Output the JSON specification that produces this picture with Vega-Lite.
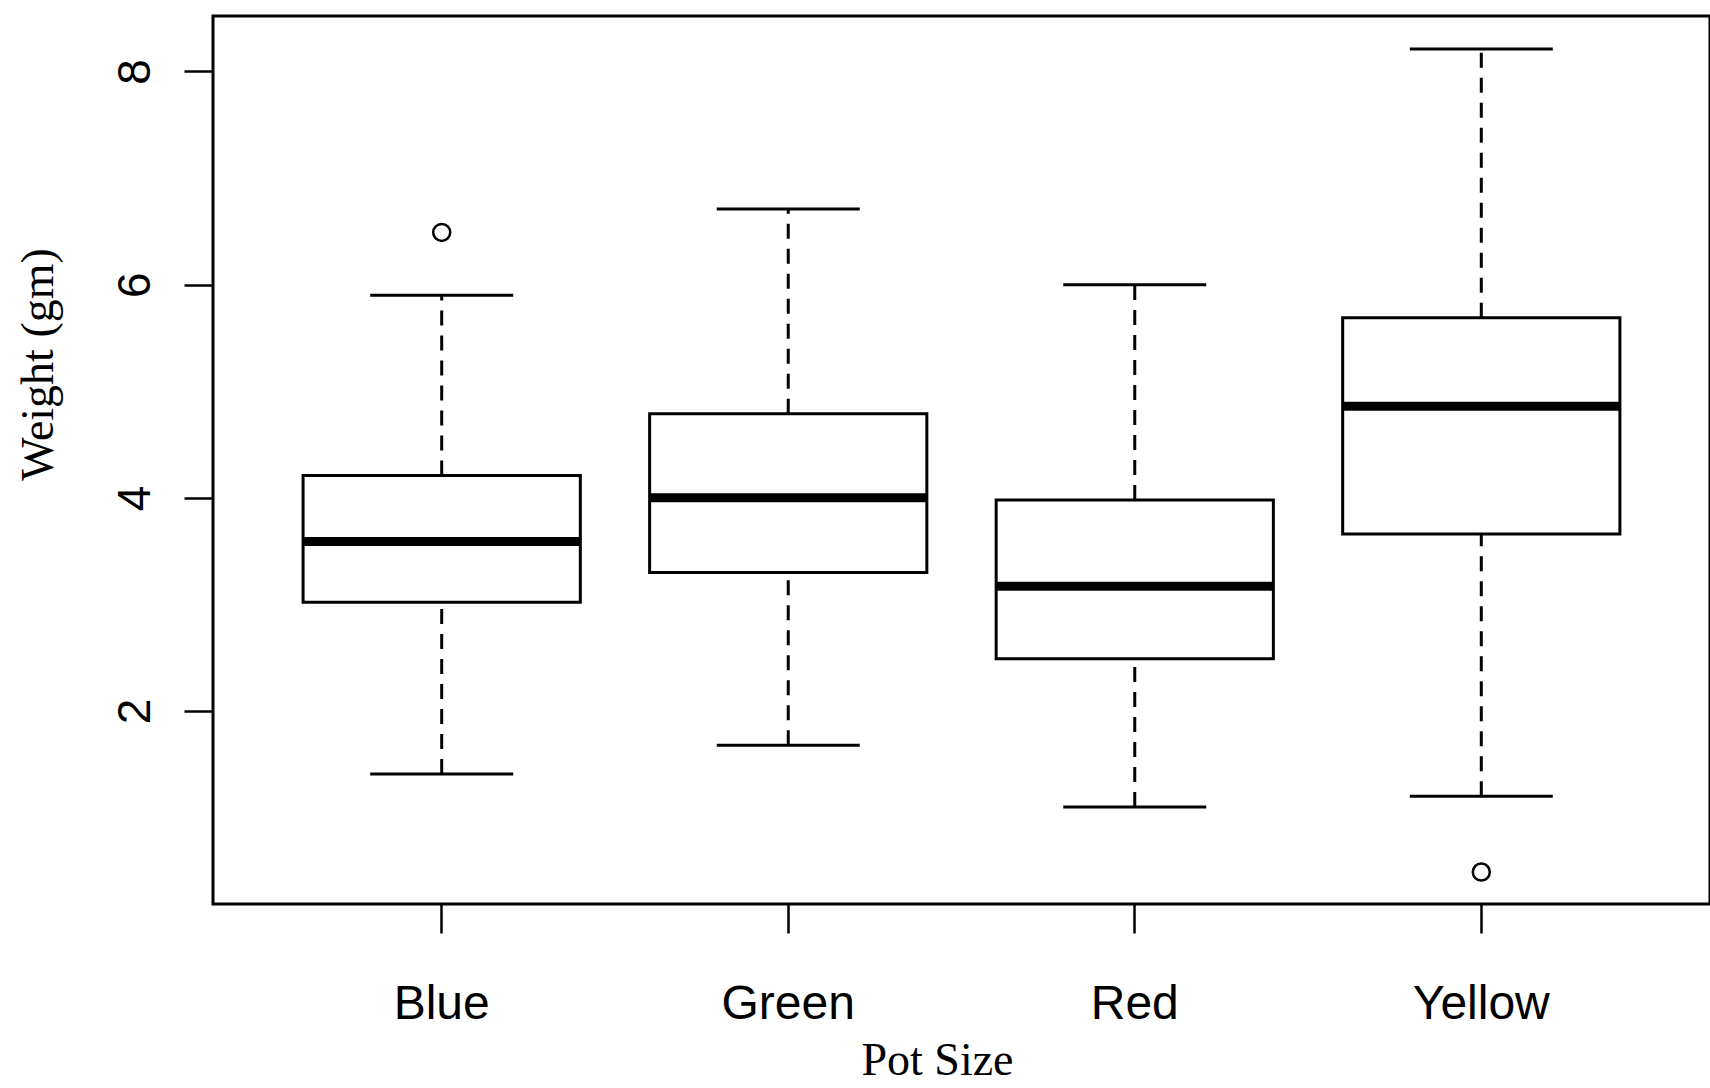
{
  "$schema": "https://vega.github.io/schema/vega-lite/v6.json",
  "width": 1497,
  "height": 888,
  "autosize": {"type": "none"},
  "padding": {"left": 213, "top": 16, "right": 0, "bottom": 184},
  "background": "white",
  "config": {
    "view": {"stroke": "black", "strokeWidth": 3, "fill": "white"},
    "axis": {"grid": false, "domain": false, "tickColor": "black", "tickWidth": 2.5, "tickSize": 29, "labelColor": "black", "titleColor": "black"}
  },
  "datasets": {
    "boxes": [
      {"Pot": "Blue", "lower": 1.41, "q1": 3.02, "median": 3.59, "q3": 4.21, "upper": 5.90},
      {"Pot": "Green", "lower": 1.68, "q1": 3.30, "median": 4.00, "q3": 4.79, "upper": 6.71},
      {"Pot": "Red", "lower": 1.10, "q1": 2.49, "median": 3.17, "q3": 3.98, "upper": 6.00},
      {"Pot": "Yellow", "lower": 1.20, "q1": 3.66, "median": 4.86, "q3": 5.69, "upper": 8.21}
    ],
    "outliers": [
      {"Pot": "Blue", "Weight": 6.49},
      {"Pot": "Yellow", "Weight": 0.49}
    ]
  },
  "encoding": {
    "x": {
      "field": "Pot",
      "type": "nominal",
      "sort": ["Blue", "Green", "Red", "Yellow"],
      "scale": {"type": "band", "domain": ["Blue", "Green", "Red", "Yellow"], "paddingInner": 0, "paddingOuter": 0.16},
      "axis": {
        "orient": "bottom",
        "title": "Pot Size",
        "labelAngle": 0,
        "labelFont": "Liberation Sans Narrow, Arial Narrow, Liberation Sans",
        "labelFontSize": 48,
        "labelBaseline": "alphabetic",
        "labelPadding": 85,
        "titleFont": "Liberation Serif",
        "titleFontSize": 46,
        "titleFontWeight": "normal",
        "titleBaseline": "alphabetic",
        "titleAlign": "center",
        "titleX": 724,
        "titleY": 170
      }
    }
  },
  "layer": [
    {
      "data": {"name": "boxes"},
      "mark": {"type": "rule", "color": "black", "strokeWidth": 3, "strokeDash": [15, 10]},
      "encoding": {
        "y": {
          "field": "lower",
          "type": "quantitative",
          "scale": {"domain": [0.19, 8.52], "nice": false, "zero": false},
          "axis": {
            "title": "Weight (gm)",
            "values": [2, 4, 6, 8],
            "format": "d",
            "labelAngle": 270,
            "labelAlign": "center",
            "labelBaseline": "alphabetic",
            "labelFont": "Liberation Sans",
            "labelFontSize": 46,
            "labelPadding": 35,
            "titleFont": "Liberation Serif",
            "titleFontSize": 46,
            "titleFontWeight": "normal",
            "titleAngle": 270,
            "titleBaseline": "alphabetic",
            "titleAlign": "center",
            "titleX": -161,
            "titleY": 348
          }
        },
        "y2": {"field": "q1"}
      }
    },
    {
      "data": {"name": "boxes"},
      "mark": {"type": "rule", "color": "black", "strokeWidth": 3, "strokeDash": [15, 10]},
      "encoding": {
        "y": {"field": "q3", "type": "quantitative"},
        "y2": {"field": "upper"}
      }
    },
    {
      "data": {"name": "boxes"},
      "mark": {"type": "bar", "fill": "white", "stroke": "black", "strokeWidth": 3, "width": {"band": 0.8}},
      "encoding": {
        "y": {"field": "q1", "type": "quantitative"},
        "y2": {"field": "q3"}
      }
    },
    {
      "data": {"name": "boxes"},
      "mark": {"type": "tick", "orient": "horizontal", "color": "black", "size": 277, "thickness": 9, "opacity": 1},
      "encoding": {
        "y": {"field": "median", "type": "quantitative"}
      }
    },
    {
      "data": {"name": "boxes"},
      "mark": {"type": "tick", "orient": "horizontal", "color": "black", "size": 143, "thickness": 3, "opacity": 1},
      "encoding": {
        "y": {"field": "lower", "type": "quantitative"}
      }
    },
    {
      "data": {"name": "boxes"},
      "mark": {"type": "tick", "orient": "horizontal", "color": "black", "size": 143, "thickness": 3, "opacity": 1},
      "encoding": {
        "y": {"field": "upper", "type": "quantitative"}
      }
    },
    {
      "data": {"name": "outliers"},
      "mark": {"type": "point", "shape": "circle", "filled": false, "color": "black", "size": 289, "strokeWidth": 2.5, "opacity": 1},
      "encoding": {
        "y": {"field": "Weight", "type": "quantitative"}
      }
    }
  ]
}
